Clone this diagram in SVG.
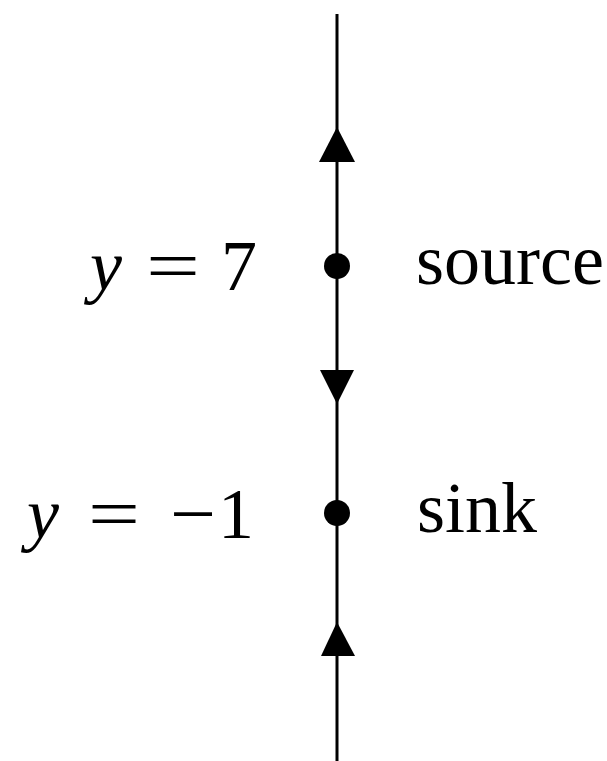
<svg xmlns="http://www.w3.org/2000/svg" width="607" height="761" viewBox="0 0 607 761">
<style>
.t{font-family:"Liberation Serif","Times New Roman",serif;font-size:72px;fill:#000}
.i{font-style:italic}
.ln{stroke:#000;stroke-width:3;fill:none}
.ah{fill:#000}
</style>
<rect width="607" height="761" fill="#fff"/>
<g id="connectors">
<line class="ln" x1="337" y1="14" x2="337" y2="761"/>
<polygon class="ah" points="337,127 319,162 355,162"/>
<polygon class="ah" points="320,370 354,370 337,404"/>
<polygon class="ah" points="337,622 321,656 355,656"/>
</g>
<g id="node-source">
<circle cx="337" cy="266" r="13"/>
<text class="t i" x="90" y="290">y</text>
<text class="t" x="146" y="290" textLength="54" lengthAdjust="spacingAndGlyphs">=</text>
<text class="t" x="221" y="290">7</text>
<text class="t" x="416" y="284">source</text>
</g>
<g id="node-sink">
<circle cx="337" cy="513" r="13"/>
<text class="t i" x="27" y="538">y</text>
<text class="t" x="88" y="538" textLength="52" lengthAdjust="spacingAndGlyphs">=</text>
<text class="t" x="170" y="538" textLength="46" lengthAdjust="spacingAndGlyphs">−</text>
<text class="t" x="218" y="538">1</text>
<text class="t" x="417" y="532">sink</text>
</g>
</svg>
